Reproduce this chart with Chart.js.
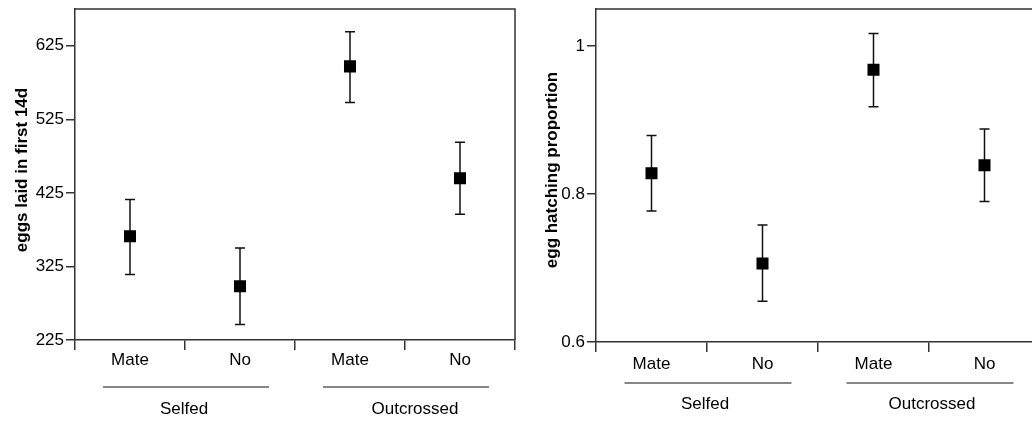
<!DOCTYPE html>
<html>
<head>
<meta charset="utf-8">
<script src="https://cdn.jsdelivr.net/npm/chart.js@4/dist/chart.umd.min.js"></script>
<style>
  html, body { margin: 0; padding: 0; background: #fff; overflow: hidden; width: 1032px; height: 421px; }
  .panel { position: absolute; top: 0; }
  #left-panel { left: 0; }
  #right-panel { left: 521px; }
</style>
</head>
<body>
<div class="panel" id="left-panel"><canvas id="eggs-chart" width="530" height="421"></canvas></div>
<div class="panel" id="right-panel"><canvas id="hatch-chart" width="530" height="421"></canvas></div>
<script>
// categories
const treatments = ['Mate', 'No', 'Mate', 'No'];
const groups = ['Selfed', 'Outcrossed'];

// eggs laid in first 14 days
const eggsMean = [366, 298, 597, 445];
const eggsLower = [314, 246, 548, 396];
const eggsUpper = [416, 350, 644, 494];
const eggsTicks = [225, 325, 425, 525, 625];

// egg hatching proportion
const hatchMean = [0.828, 0.706, 0.968, 0.839];
const hatchLower = [0.777, 0.655, 0.918, 0.790];
const hatchUpper = [0.879, 0.758, 1.017, 0.888];
const hatchTicks = [0.6, 0.8, 1];

const FONT = '"Liberation Sans", Arial, Helvetica, sans-serif';
const INK = '#000';

// error bars, drawn under the square markers
const errorBars = {
  id: 'errorBars',
  beforeDatasetsDraw(chart, args, opts) {
    const { ctx, scales: { x, y } } = chart;
    ctx.save();
    ctx.strokeStyle = '#111';
    ctx.lineWidth = 1.5;
    opts.lower.forEach((lo, i) => {
      const px = x.getPixelForValue(i);
      const yLo = y.getPixelForValue(lo);
      const yHi = y.getPixelForValue(opts.upper[i]);
      ctx.beginPath();
      ctx.moveTo(px, yLo); ctx.lineTo(px, yHi);
      ctx.moveTo(px - 5, yLo); ctx.lineTo(px + 5, yLo);
      ctx.moveTo(px - 5, yHi); ctx.lineTo(px + 5, yHi);
      ctx.stroke();
    });
    ctx.restore();
  }
};

// frame, y title, group lines and labels
const decorations = {
  id: 'decorations',
  afterDraw(chart, args, opts) {
    const { ctx, chartArea: a, scales: { x } } = chart;
    ctx.save();
    ctx.strokeStyle = '#333';
    ctx.lineWidth = 1.5;
    ctx.beginPath();
    ctx.moveTo(a.left, a.top); ctx.lineTo(a.right, a.top); ctx.lineTo(a.right, a.bottom);
    ctx.stroke();

    ctx.fillStyle = INK;
    ctx.font = 'bold 17px ' + FONT;
    ctx.textAlign = 'center';
    ctx.textBaseline = 'middle';
    ctx.translate(opts.titleX, opts.titleY);
    ctx.rotate(-Math.PI / 2);
    ctx.fillText(opts.title, 0, 0);
    ctx.setTransform(1, 0, 0, 1, 0, 0);

    ctx.font = '17px ' + FONT;
    ctx.strokeStyle = '#111';
    ctx.lineWidth = 1.2;
    groups.forEach((g, k) => {
      const x0 = x.getPixelForValue(k * 2) - 27;
      const x1 = x.getPixelForValue(k * 2 + 1) + 29;
      ctx.beginPath();
      ctx.moveTo(x0, a.bottom + opts.lineGap);
      ctx.lineTo(x1, a.bottom + opts.lineGap);
      ctx.stroke();
      ctx.fillText(g, (x0 + x1) / 2 + opts.labelShift[k], a.bottom + opts.labelGap);
    });
    ctx.restore();
  }
};

function makeChart(id, mean, lower, upper, yTicks, yMin, yMax, deco) {
  return new Chart(document.getElementById(id), {
    type: 'line',
    data: {
      labels: treatments,
      datasets: [{
        data: mean,
        showLine: false,
        pointStyle: 'rect',
        pointRadius: 8.5,
        pointHoverRadius: 8.5,
        pointBackgroundColor: '#000',
        pointBorderColor: '#000',
        pointBorderWidth: 0
      }]
    },
    options: {
      responsive: false,
      animation: false,
      events: [],
      layout: { padding: { top: 9, right: deco.padRight, bottom: 0, left: 0 } },
      plugins: {
        legend: { display: false },
        tooltip: { enabled: false },
        errorBars: { lower, upper },
        decorations: deco
      },
      scales: {
        x: {
          type: 'category',
          offset: true,
          grid: { offset: true, drawOnChartArea: false, tickLength: 10, color: '#333', lineWidth: 1.5 },
          border: { color: '#333', width: 1.5 },
          ticks: { color: INK, font: { family: FONT, size: 17 }, padding: deco.xPad, maxRotation: 0 },
          afterFit(s) { s.height = deco.xHeight; s.paddingLeft = 0; s.paddingRight = 0; }
        },
        y: {
          min: yMin,
          max: yMax,
          afterBuildTicks(s) { s.ticks = yTicks.map(v => ({ value: v })); },
          grid: { drawOnChartArea: false, tickLength: 9, color: '#333', lineWidth: 1.5 },
          border: { color: '#333', width: 1.5 },
          ticks: { color: INK, font: { family: FONT, size: 17 }, padding: 2, callback: v => String(v) },
          afterFit(s) { s.width = 75; s.paddingTop = 0; s.paddingBottom = 0; }
        }
      }
    },
    plugins: [errorBars, decorations]
  });
}

makeChart('eggs-chart', eggsMean, eggsLower, eggsUpper, eggsTicks, 225, 675, {
  title: 'eggs laid in first 14d', titleX: 22, titleY: 170,
  lineGap: 47, labelGap: 69, labelShift: [-2, 9],
  padRight: 15, xHeight: 81, xPad: 0
});

makeChart('hatch-chart', hatchMean, hatchLower, hatchUpper, hatchTicks, 0.6, 1.05, {
  title: 'egg hatching proportion', titleX: 31, titleY: 170,
  lineGap: 41, labelGap: 62, labelShift: [-3, 2],
  padRight: 11, xHeight: 79, xPad: 2
});
</script>
</body>
</html>
